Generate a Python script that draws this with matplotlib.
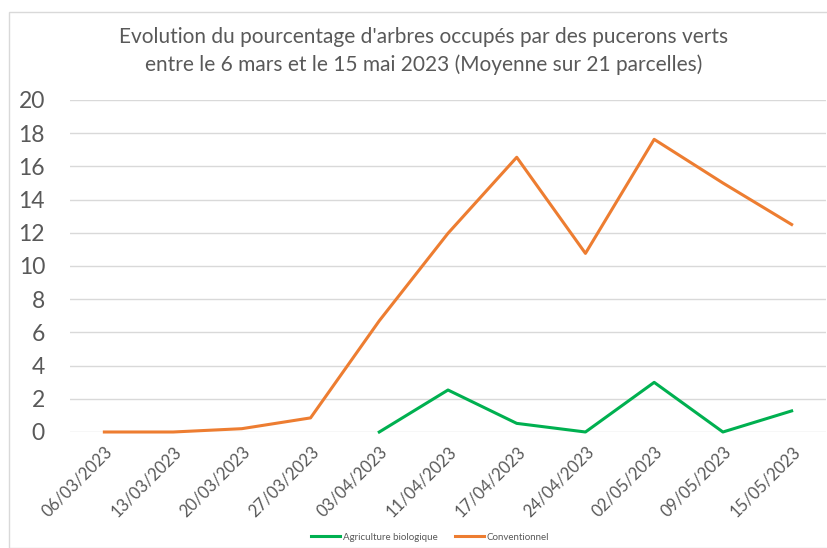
import matplotlib
matplotlib.use("Agg")
import matplotlib.pyplot as plt
import numpy as np
from matplotlib.patches import Rectangle

dates = ["06/03/2023", "13/03/2023", "20/03/2023", "27/03/2023", "03/04/2023",
         "11/04/2023", "17/04/2023", "24/04/2023", "02/05/2023", "09/05/2023", "15/05/2023"]
bio = [np.nan, np.nan, np.nan, np.nan, 0.0, 2.53, 0.52, 0.0, 2.99, 0.0, 1.27]
conv = [0.0, 0.0, 0.2, 0.85, 6.7, 11.97, 16.55, 10.76, 17.63, 15.0, 12.5]
series_names = ["Agriculture biologique", "Conventionnel"]
title = "Evolution du pourcentage d'arbres occupés par des pucerons verts\nentre le 6 mars et le 15 mai 2023 (Moyenne sur 21 parcelles)"

plt.rcParams['font.family'] = ['Lato', 'DejaVu Sans']
txt = '#595959'

fig = plt.figure(figsize=(8.27, 5.48), dpi=100)
fig.patches.append(Rectangle((9/827, 0), 1, 1 - 12/548, transform=fig.transFigure,
                             fill=False, edgecolor='#D9D9D9', linewidth=1))
ax = fig.add_axes([70/827, 1 - 432/548, 756/827, 332/548])

x = np.arange(len(dates))
ax.plot(x, bio, color='#00B050', linewidth=2.2, label=series_names[0], clip_on=False, zorder=3)
ax.plot(x, conv, color='#ED7D31', linewidth=2.2, label=series_names[1], clip_on=False, zorder=3)

ax.set_xlim(-0.5, len(dates) - 0.5)
ax.set_ylim(0, 20)
ax.set_yticks(np.arange(0, 21, 2))
ax.set_xticks(x)
ax.set_xticklabels(dates, rotation=45, ha='right', rotation_mode='anchor', color=txt, fontsize=12)
ax.tick_params(axis='x', length=0, pad=8)
ax.tick_params(axis='y', length=0, pad=18, labelsize=16.5, labelcolor=txt)
ax.grid(axis='y', color='#D9D9D9', linewidth=1)
ax.set_axisbelow(True)
for s in ax.spines.values():
    s.set_visible(False)

fig.text(424/827, 1 - 51/548, title, ha='center', va='center', fontsize=15,
         color=txt, linespacing=1.4)

ax.legend(loc='center', bbox_to_anchor=(430/827, 1 - 537/548), bbox_transform=fig.transFigure,
          ncol=2, frameon=False, fontsize=7, labelcolor=txt, handlelength=3,
          columnspacing=1.8, handletextpad=0.3)

fig.savefig('out.png', dpi=100)
